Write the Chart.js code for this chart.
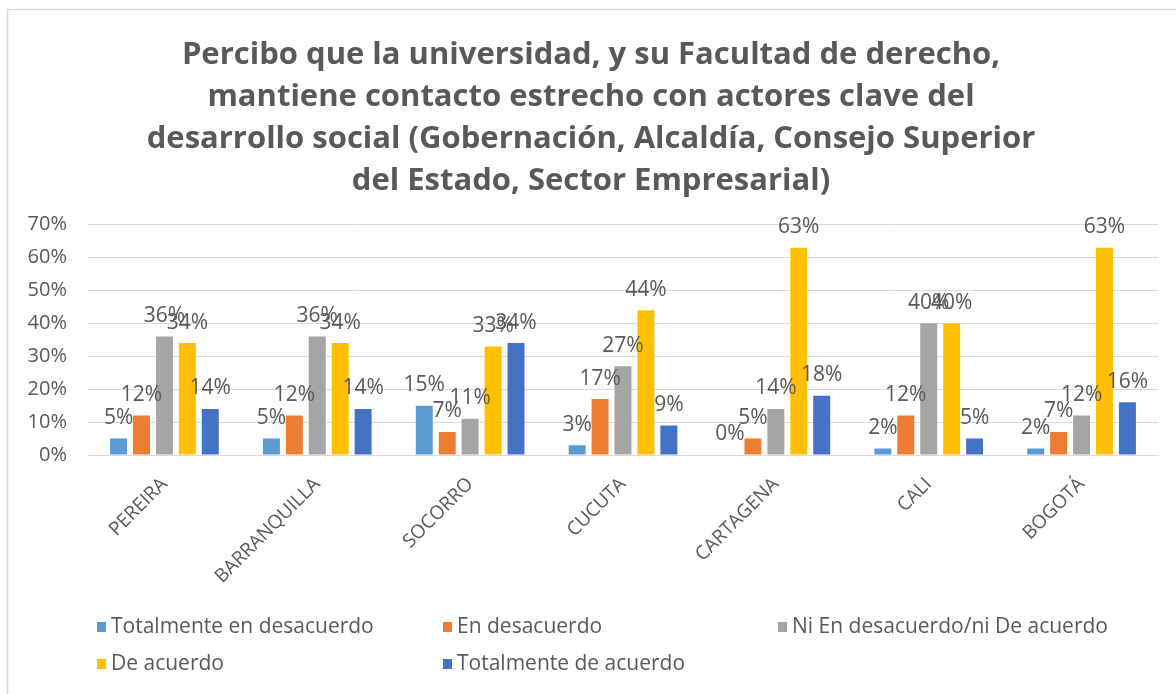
<!DOCTYPE html>
<html>
<head>
<meta charset="utf-8">
<script src="https://cdn.jsdelivr.net/npm/chart.js@4"></script>
<style>
html,body{margin:0;padding:0;background:#fff;}
#wrap{position:relative;width:1176px;height:694px;}
</style>
</head>
<body>
<div id="wrap"><canvas id="c" width="1176" height="694"></canvas></div>
<script>
const titleLines = [
  "Percibo que la universidad, y su Facultad de derecho,",
  "mantiene contacto estrecho con actores clave del",
  "desarrollo social (Gobernación, Alcaldía, Consejo Superior",
  "del Estado, Sector Empresarial)"
];
const categories = ["PEREIRA","BARRANQUILLA","SOCORRO","CUCUTA","CARTAGENA","CALI","BOGOTÁ"];
const seriesNames = ["Totalmente en desacuerdo","En desacuerdo","Ni En desacuerdo/ni De acuerdo","De acuerdo","Totalmente de acuerdo"];
const totalmenteDesacuerdo = [5, 5, 15, 3, 0, 2, 2];
const enDesacuerdo = [12, 12, 7, 17, 5, 12, 7];
const niNi = [36, 36, 11, 27, 14, 40, 12];
const deAcuerdo = [34, 34, 33, 44, 63, 40, 63];
const totalmenteAcuerdo = [14, 14, 34, 9, 18, 5, 16];
const yTicks = [0, 10, 20, 30, 40, 50, 60, 70];
const colors = ["#5B9BD5","#ED7D31","#A5A5A5","#FFC000","#4472C4"];

const seriesValues = [totalmenteDesacuerdo, enDesacuerdo, niNi, deAcuerdo, totalmenteAcuerdo];
const TEXT = "#595959";
const BODY_FONT = "Open Sans";

const frame = {
  id: 'frame',
  beforeDraw(chart) {
    const ctx = chart.ctx;
    ctx.save();
    ctx.fillStyle = '#fff';
    ctx.fillRect(0, 0, chart.width, chart.height);
    ctx.strokeStyle = '#d9d9d9';
    ctx.lineWidth = 1.5;
    ctx.strokeRect(7.5, 9.5, 1200, 700);
    ctx.restore();
  }
};

const valueLabels = {
  id: 'valueLabels',
  afterDatasetsDraw(chart) {
    const ctx = chart.ctx;
    ctx.save();
    ctx.font = "21px " + BODY_FONT;
    ctx.fillStyle = TEXT;
    ctx.textAlign = 'center';
    ctx.textBaseline = 'bottom';
    chart.data.datasets.forEach((ds, i) => {
      const meta = chart.getDatasetMeta(i);
      meta.data.forEach((bar, j) => {
        ctx.fillText(ds.data[j] + '%', bar.x, bar.y - 10);
      });
    });
    ctx.restore();
  }
};

const customLegend = {
  id: 'customLegend',
  afterDraw(chart) {
    const ctx = chart.ctx;
    const pos = [[97, 627], [443, 627], [778, 627], [97, 664], [443, 664]];
    ctx.save();
    ctx.font = "21px " + BODY_FONT;
    ctx.textBaseline = 'middle';
    ctx.textAlign = 'left';
    chart.data.datasets.forEach((ds, i) => {
      const [x, y] = pos[i];
      ctx.fillStyle = ds.backgroundColor;
      ctx.fillRect(x, y - 5, 9, 10);
      ctx.fillStyle = TEXT;
      ctx.fillText(ds.label, x + 14, y);
    });
    ctx.restore();
  }
};

new Chart(document.getElementById('c'), {
  type: 'bar',
  data: {
    labels: categories,
    datasets: seriesNames.map((n, i) => ({
      label: n,
      data: seriesValues[i],
      backgroundColor: colors[i],
      categoryPercentage: 0.75,
      barPercentage: 0.74
    }))
  },
  options: {
    responsive: false,
    animation: false,
    devicePixelRatio: 1,
    layout: { padding: { left: 24, right: 18, top: 26, bottom: 109 } },
    plugins: {
      legend: { display: false },
      tooltip: { enabled: false },
      title: {
        display: true,
        text: titleLines,
        color: TEXT,
        font: { family: "Open Sans", size: 31, weight: 'bold', lineHeight: 1.36 },
        padding: { top: 8, bottom: 22 }
      }
    },
    scales: {
      x: {
        grid: { display: false },
        border: { color: '#d9d9d9' },
        ticks: {
          color: TEXT,
          font: { family: BODY_FONT, size: 19 },
          minRotation: 45, maxRotation: 45,
          padding: 10,
          autoSkip: false
        },
        afterFit(scale) { scale.height = 130; }
      },
      y: {
        min: 0, max: 70,
        afterBuildTicks(scale) { scale.ticks = yTicks.map(v => ({ value: v })); },
        grid: { color: '#d9d9d9', drawTicks: false },
        border: { display: false },
        ticks: {
          color: TEXT,
          font: { family: BODY_FONT, size: 20 },
          padding: 21,
          callback: v => v + '%'
        },
        afterFit(scale) { scale.width = 64; }
      }
    }
  },
  plugins: [frame, valueLabels, customLegend]
});
</script>
</body>
</html>
